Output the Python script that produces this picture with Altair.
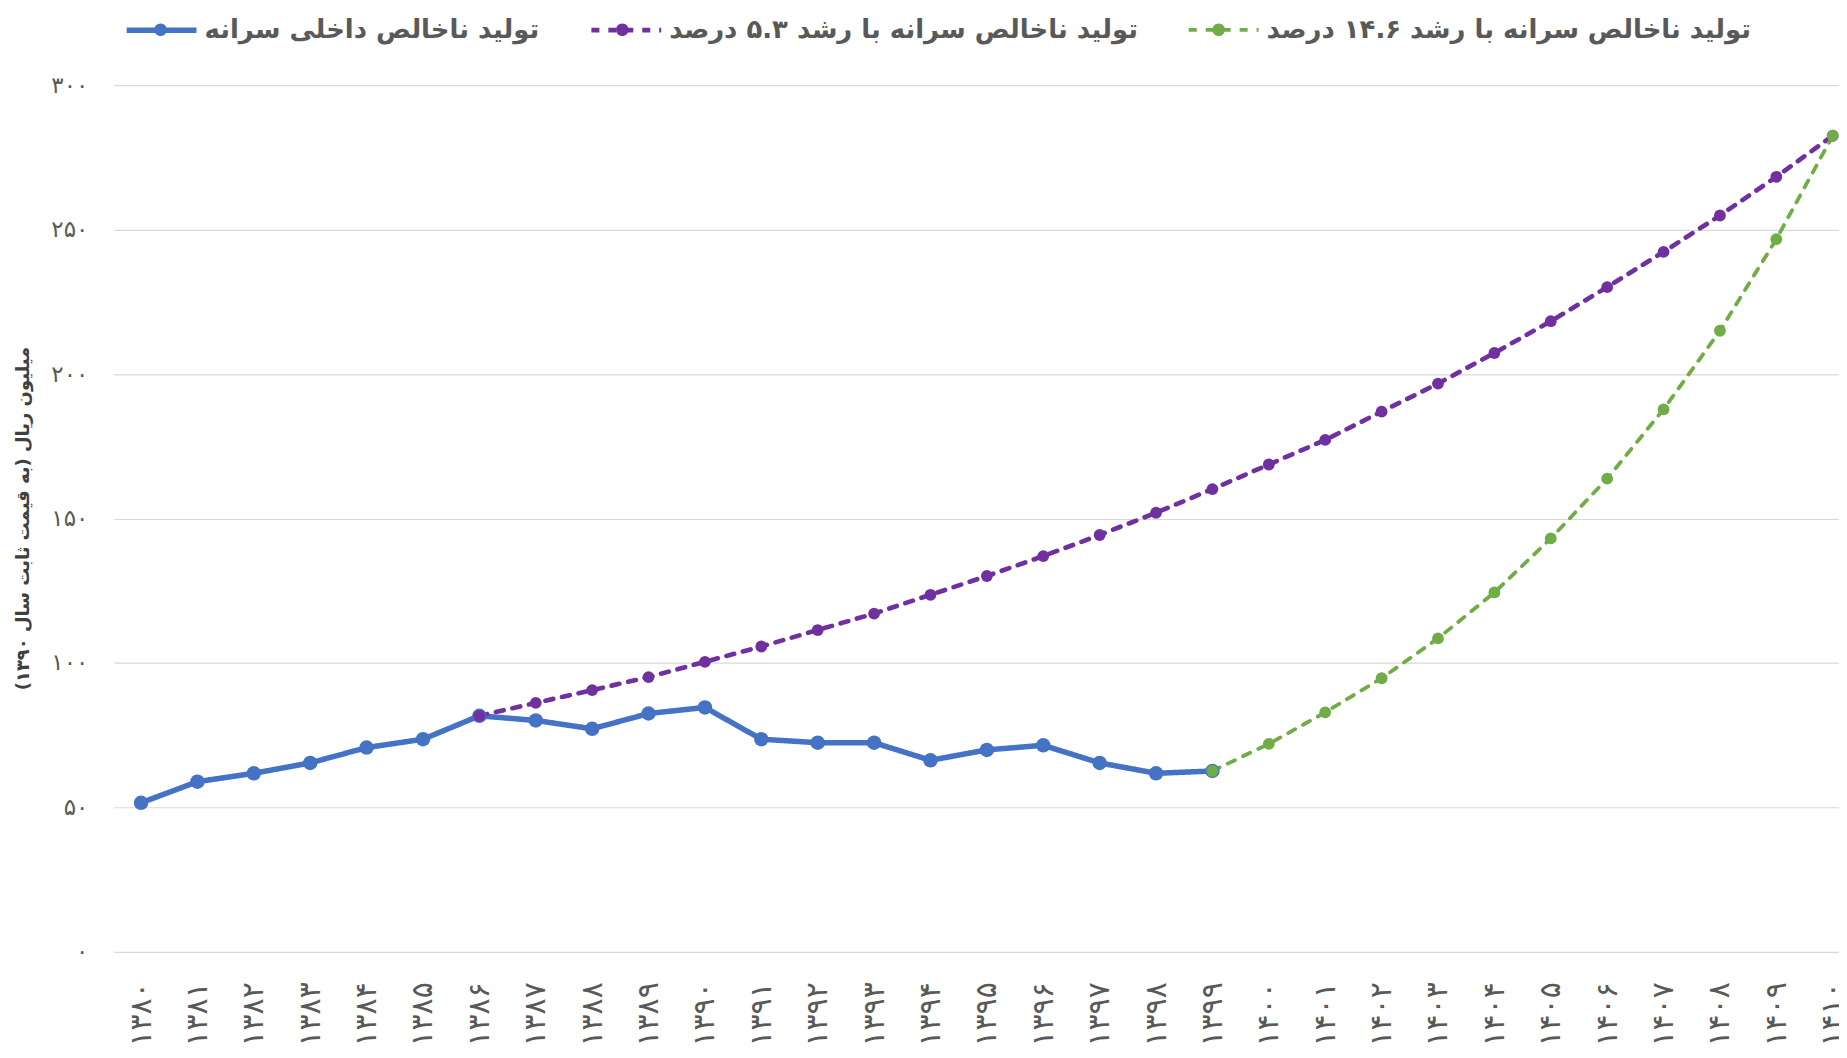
import altair as alt
import pandas as pd

# ---------------- data ----------------
years_fa = ['۱۳۸۰', '۱۳۸۱', '۱۳۸۲', '۱۳۸۳', '۱۳۸۴', '۱۳۸۵', '۱۳۸۶', '۱۳۸۷', '۱۳۸۸', '۱۳۸۹',
            '۱۳۹۰', '۱۳۹۱', '۱۳۹۲', '۱۳۹۳', '۱۳۹۴', '۱۳۹۵', '۱۳۹۶', '۱۳۹۷', '۱۳۹۸', '۱۳۹۹',
            '۱۴۰۰', '۱۴۰۱', '۱۴۰۲', '۱۴۰۳', '۱۴۰۴', '۱۴۰۵', '۱۴۰۶', '۱۴۰۷', '۱۴۰۸', '۱۴۰۹', '۱۴۱۰']

series_names = ['تولید ناخالص داخلی سرانه',
                'تولید ناخالص سرانه با رشد ۵.۳ درصد',
                'تولید ناخالص سرانه با رشد ۱۴.۶ درصد']

# actual GDP per capita, 1380-1399
actual_years = years_fa[0:20]
actual_values = [51.6, 58.9, 61.8, 65.4, 70.7, 73.6, 81.7, 80.1, 77.2, 82.5,
                 84.6, 73.6, 72.4, 72.4, 66.3, 69.9, 71.5, 65.4, 61.8, 62.6]

# 5.3% growth path, 1386-1410
g53_years = years_fa[6:31]
g53_values = [81.7, 86.2, 90.6, 95.1, 100.4, 105.7, 111.4, 117.1, 123.6, 130.1,
              137.0, 144.3, 152.0, 160.2, 168.7, 177.2, 187.0, 196.7, 207.3, 218.3,
              230.1, 242.3, 254.9, 268.3, 282.5]

# 14.6% growth path, 1399-1410
g146_years = years_fa[19:31]
g146_values = [62.6, 72.0, 82.9, 94.7, 108.5, 124.4, 143.1, 163.8, 187.8, 215.0, 246.7, 282.5]

y_tick_values = [0, 50, 100, 150, 200, 250, 300]
y_tick_labels = ['۰', '۵۰', '۱۰۰', '۱۵۰', '۲۰۰', '۲۵۰', '۳۰۰']
y_title = 'میلیون ریال (به قیمت ثابت سال ۱۳۹۰)' + '\u200f'

colors = ['#4472C4', '#7030A0', '#70AD47']

rows = []
for i, (ys, vs) in enumerate([(actual_years, actual_values),
                              (g53_years, g53_values),
                              (g146_years, g146_values)]):
    for y, v in zip(ys, vs):
        rows.append({'year': y, 'value': v, 'series': series_names[i],
                     'dot': series_names[i], 'actual': i == 0})
df = pd.DataFrame(rows)

# ---------------- chart ----------------
FONT = 'DejaVu Sans'
label_expr = '[' + ','.join("'%s'" % t for t in y_tick_labels) + '][round(datum.value/50)]'

x_enc = alt.X('year:N', sort=years_fa,
              scale=alt.Scale(type='point', padding=0.298, align=0.813),
              axis=alt.Axis(title=None, labelAngle=-90, labelPadding=30, ticks=False,
                            domain=False, grid=False, labelFontSize=30, labelColor='#595959',
                            labelFont=FONT))
y_enc = alt.Y('value:Q', scale=alt.Scale(domain=[0, 300], nice=False),
              axis=alt.Axis(values=y_tick_values, labelExpr=label_expr, grid=True,
                            gridColor='#D9D9D9', gridWidth=1.2, domain=False, ticks=False,
                            labelPadding=26, labelFontSize=23, labelColor='#595959',
                            labelFont=FONT, title=y_title, titleFont=FONT,
                            titleFontSize=18, titleFontWeight='bold', titleColor='#404040',
                            titleX=-90, titleY=434, titleAngle=-90, titleAlign='center',
                            titleBaseline='middle'))

legend_common = dict(title=None, orient='none', legendX=10, legendY=-93,
                     direction='horizontal', columns=3, columnPadding=42, labelOffset=5,
                     padding=0, symbolSize=4900, labelFontSize=26, labelFont=FONT,
                     labelFontWeight='bold', labelLimit=1000, symbolStrokeWidth=4)

line_legend = alt.Legend(symbolType='M-1,0L1,0', labelColor='#595959', zindex=1,
                         **legend_common)
dot_legend = alt.Legend(symbolType='M-1,0L1,0M0.18,0A0.18,0.18,0,1,1,-0.18,0A0.18,0.18,0,1,1,0.18,0Z',
                        labelColor='rgba(0,0,0,0)',
                        symbolStrokeColor='rgba(0,0,0,0)', zindex=2, **legend_common)

lines = alt.Chart(df).mark_line(strokeCap='round').encode(
    x=x_enc, y=y_enc,
    stroke=alt.Stroke('series:N', scale=alt.Scale(domain=series_names, range=colors),
                      legend=line_legend),
    strokeDash=alt.StrokeDash('series:N', scale=alt.Scale(domain=series_names,
                                                          range=[[1, 0], [8, 9], [8, 9]]),
                              legend=line_legend),
    strokeWidth=alt.StrokeWidth('series:N', scale=alt.Scale(domain=series_names,
                                                            range=[5.5, 3.8, 3.8]),
                                legend=None),
)

# data-driven domain (sorted like the series list) keeps the dot legend separate
fill_enc = alt.Fill('dot:N', sort=series_names, scale=alt.Scale(range=colors),
                    legend=dot_legend)

points_actual = alt.Chart(df).transform_filter('datum.actual').mark_point(
    filled=True, opacity=1, size=210).encode(x=x_enc, y=y_enc, fill=fill_enc)

points_proj = alt.Chart(df).transform_filter('!datum.actual').mark_point(
    filled=True, opacity=1, size=140).encode(x=x_enc, y=y_enc, fill=fill_enc)

chart = alt.layer(lines, points_actual, points_proj).properties(
    width=1730, height=869,
    autosize=alt.AutoSizeParams(type='none'),
    padding={'left': 106, 'top': 76, 'right': 0, 'bottom': 91},
    background='white'
).configure_view(strokeWidth=0)

chart.save('out.html', embed_options={'renderer': 'svg', 'actions': False})
